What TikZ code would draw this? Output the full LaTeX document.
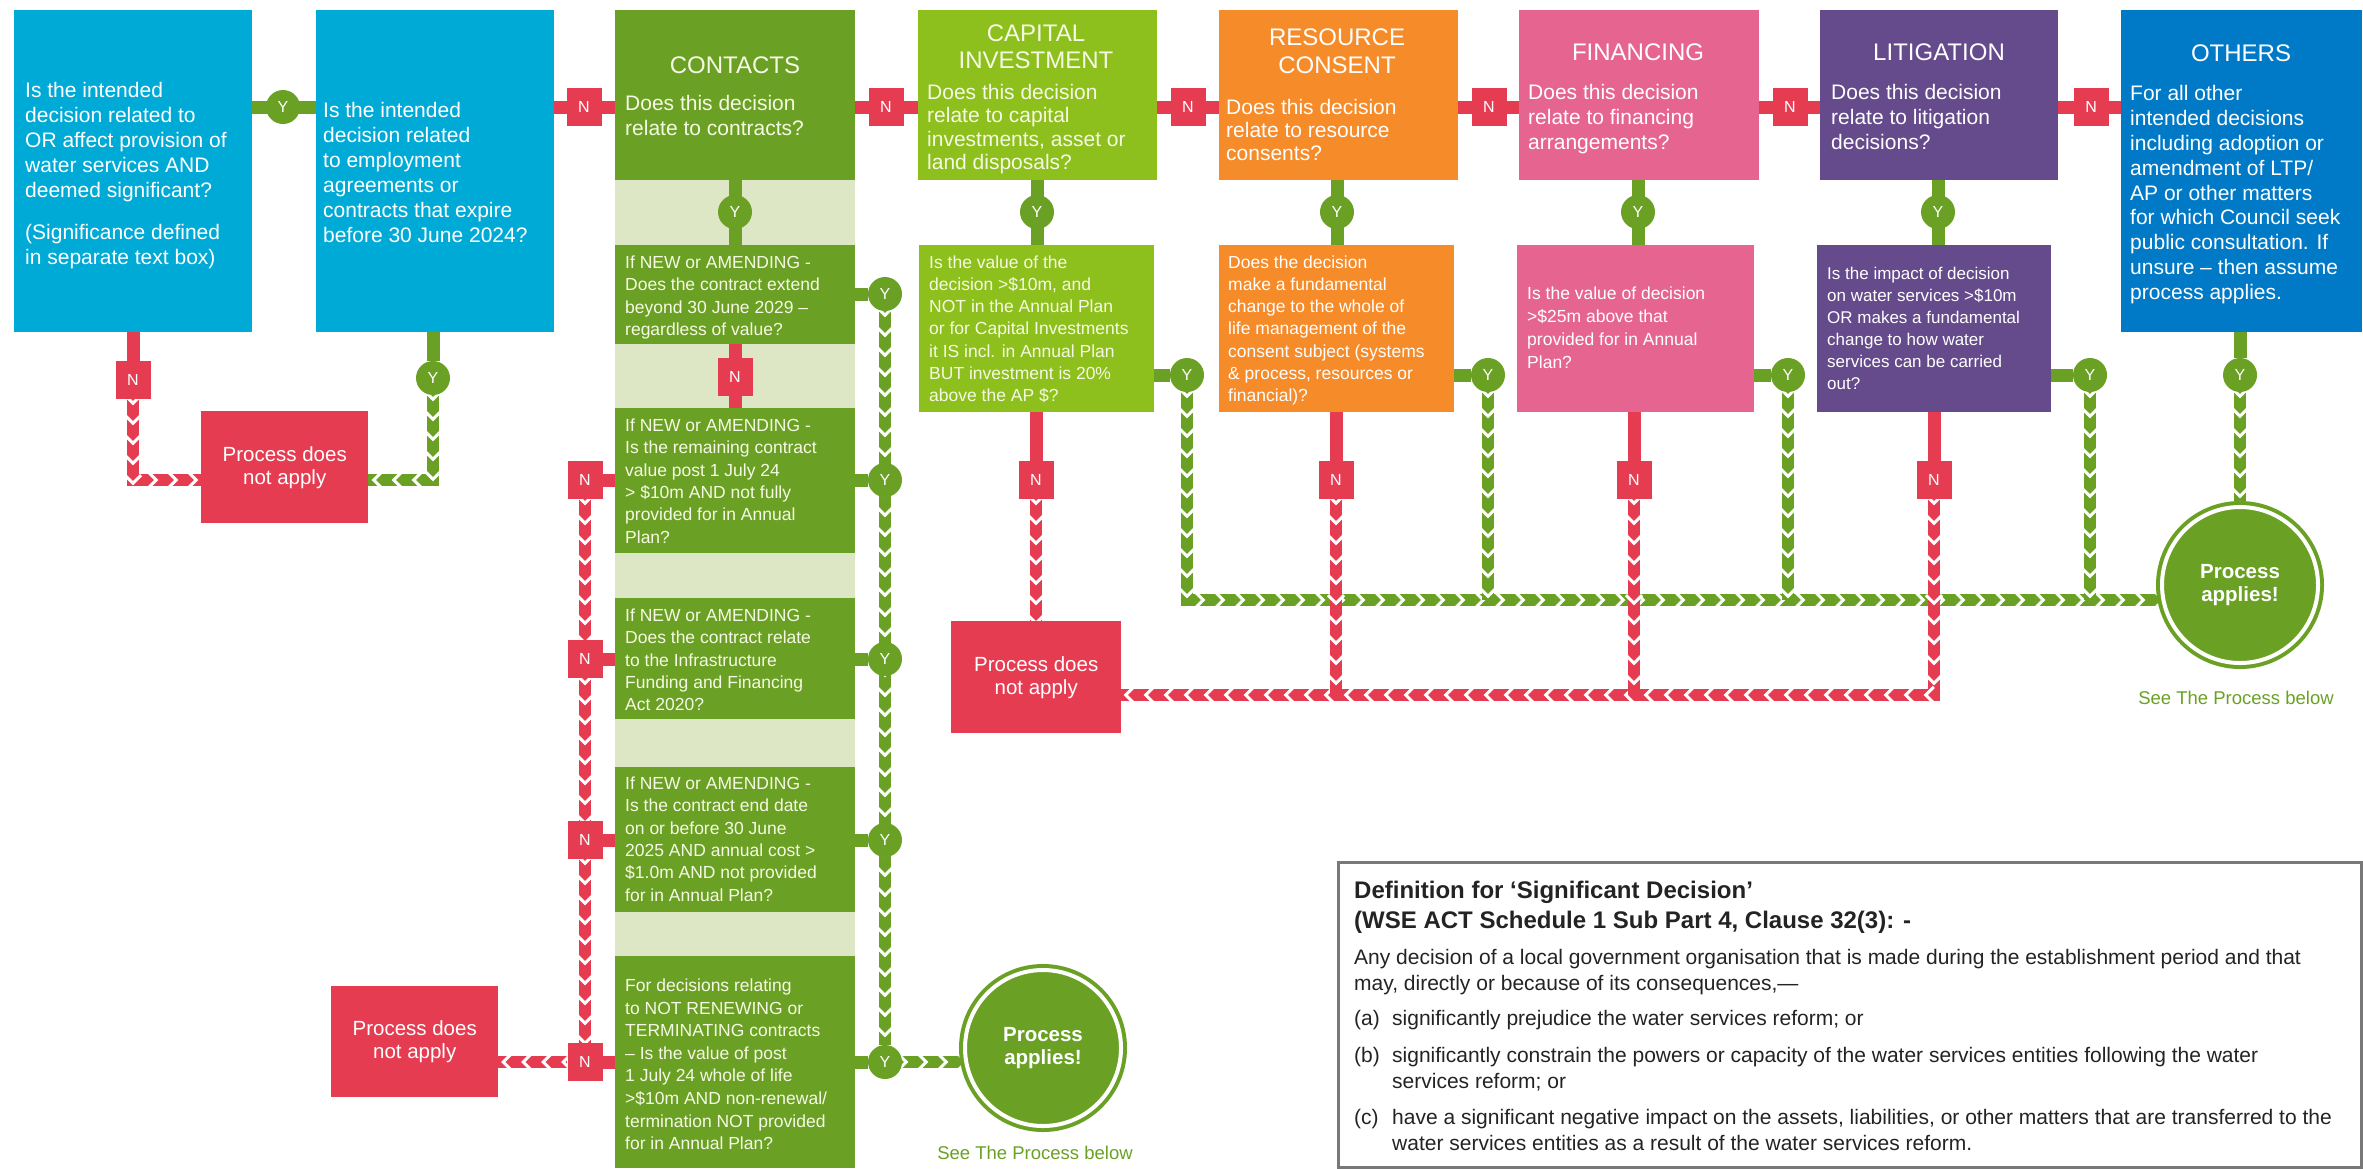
\documentclass[tikz,border=0pt]{standalone}
\usepackage{fontspec}
\setmainfont{Liberation Sans}
\usetikzlibrary{decorations.markings}
\definecolor{cBlue}{RGB}{0,170,214}
\definecolor{cBlueO}{RGB}{0,122,199}
\definecolor{cGreen}{RGB}{106,161,36}
\definecolor{cLight}{RGB}{221,231,198}
\definecolor{cLime}{RGB}{141,192,28}
\definecolor{cOrange}{RGB}{246,139,42}
\definecolor{cPink}{RGB}{230,101,144}
\definecolor{cPurple}{RGB}{101,74,140}
\definecolor{cRed}{RGB}{230,60,82}
\definecolor{cGray}{RGB}{120,120,120}
\definecolor{cText}{RGB}{35,35,35}
\definecolor{cCream}{RGB}{246,249,228}
\pgfdeclarelayer{bg}
\pgfdeclarelayer{back}
\pgfsetlayers{back,bg,main}
\newcommand\fQ{\fontsize{21}{25}\selectfont}
\newcommand\fT{\fontsize{24}{27.5}\selectfont}
\newcommand\fS{\fontsize{17.5}{22.4}\selectfont}
\newcommand\fM{\fontsize{16}{16}\selectfont}
\newcommand\fP{\fontsize{20.5}{23}\selectfont}
\newcommand\fD{\fontsize{21}{26.5}\selectfont}
\newcommand\fDT{\fontsize{24}{30}\selectfont\bfseries}
\newcommand\fSee{\fontsize{18.5}{20}\selectfont}
\tikzset{
  box/.style={rectangle, inner sep=0pt, anchor=north west},
  txt/.style={anchor=north west, inner sep=0pt, align=left, text=white},
  ttl/.style={anchor=center, inner sep=0pt, align=center, text=white, font=\fT},
  ymark/.style={circle, fill=cGreen, text=white, minimum size=34pt, inner sep=0pt, font=\fM},
  nmark/.style={rectangle, fill=cRed, text=white, minimum width=35pt, minimum height=38pt, inner sep=0pt, font=\fM},
  gline/.style={draw=cGreen, line width=13pt},
  rline/.style={draw=cRed, line width=13pt},
  chevmarks/.style={postaction={decorate, decoration={markings,
     mark=between positions 0 and 1 step 20pt with {\draw[white, line width=3pt, line join=miter] (-4pt,-8pt) -- (4pt,0pt) -- (-4pt,8pt);}}}},
  gchev/.style={draw=cGreen, line width=12pt, line join=miter, chevmarks},
  rchev/.style={draw=cRed, line width=12pt, line join=miter, chevmarks},
  pdna/.style={box, fill=cRed, text=white, font=\fP, align=center},
  papp/.style={circle, fill=cGreen, draw=cGreen, line width=4pt, double=white, double distance=4pt, minimum size=156pt, inner sep=0pt, text=white, font=\fP\bfseries, align=center},
  seetxt/.style={inner sep=0pt, text=cGreen, font=\fSee}
}
\begin{document}
\begin{tikzpicture}[x=1pt,y=-1pt]
\useasboundingbox (0,0) rectangle (2363,1168);
% ---------- contracts column background ----------
\begin{pgfonlayer}{back}
\node[box, fill=cLight, minimum width=240pt, minimum height=988pt] (kcol) at (615,180) {};
\end{pgfonlayer}
% ---------- boxes ----------
\node[box, fill=cBlue, minimum width=238pt, minimum height=322pt] (b1) at (14,10) {};
\node[box, fill=cBlue, minimum width=238pt, minimum height=322pt] (b2) at (316,10) {};
\node[box, fill=cGreen, minimum width=240pt, minimum height=170pt] (hK) at (615,10) {};
\node[box, fill=cLime, minimum width=239pt, minimum height=170pt] (hC) at (918,10) {};
\node[box, fill=cOrange, minimum width=239pt, minimum height=170pt] (hR) at (1219,10) {};
\node[box, fill=cPink, minimum width=240pt, minimum height=170pt] (hF) at (1519,10) {};
\node[box, fill=cPurple, minimum width=238pt, minimum height=170pt] (hL) at (1820,10) {};
\node[box, fill=cBlueO, minimum width=241pt, minimum height=322pt] (hO) at (2121,10) {};
\node[box, fill=cGreen, minimum width=240pt, minimum height=99pt] (sK1) at (615,245) {};
\node[box, fill=cGreen, minimum width=240pt, minimum height=145pt] (sK2) at (615,408) {};
\node[box, fill=cGreen, minimum width=240pt, minimum height=121pt] (sK3) at (615,598) {};
\node[box, fill=cGreen, minimum width=240pt, minimum height=145pt] (sK4) at (615,767) {};
\node[box, fill=cGreen, minimum width=240pt, minimum height=212pt] (sK5) at (615,956) {};
\node[box, fill=cLime, minimum width=235pt, minimum height=167pt] (sC) at (919,245) {};
\node[box, fill=cOrange, minimum width=235pt, minimum height=167pt] (sR) at (1219,245) {};
\node[box, fill=cPink, minimum width=237pt, minimum height=167pt] (sF) at (1517,245) {};
\node[box, fill=cPurple, minimum width=234pt, minimum height=167pt] (sL) at (1817,245) {};
\node[pdna, minimum width=167pt, minimum height=112pt] (pdna1) at (201,411) {Process does\\not apply};
\node[pdna, minimum width=170pt, minimum height=112pt] (pdna2) at (951,621) {Process does\\not apply};
\node[pdna, minimum width=167pt, minimum height=111pt] (pdna3) at (331,986) {Process does\\not apply};
\node[papp] (pa1) at (1043,1048) {Process\\applies!};
\node[papp] (pa2) at (2240,585) {Process\\applies!};
\node[seetxt] (see1) at (1035,1153) {See The Process below};
\node[seetxt] (see2) at (2236,698) {See The Process below};
% ---------- texts ----------
\node[txt, font=\fQ] (tb1) at (25,82) {Is the intended\\decision related to\\OR affect provision of\\water services AND\\deemed significant?\\[17pt](Significance defined\\in separate text box)};
\node[txt, font=\fQ] (tb2) at (323,102) {Is the intended\\decision related\\to employment\\agreements or\\contracts that expire\\before 30 June 2024?};
\node[ttl, text=cCream] (tKt) at (735,65) {CONTACTS};
\node[txt, font=\fQ, text=cCream] (tKq) at (625,95) {Does this decision\\relate to contracts?};
\node[ttl, text=cCream] (tCt) at (1036,46.5) {CAPITAL\\INVESTMENT};
\node[txt, font=\fontsize{21}{23.4}\selectfont, text=cCream] (tCq) at (927,84) {Does this decision\\relate to capital\\investments, asset or\\land disposals?};
\node[ttl] (tRt) at (1337,51) {RESOURCE\\CONSENT};
\node[txt, font=\fontsize{21}{23}\selectfont] (tRq) at (1226,99) {Does this decision\\relate to resource\\consents?};
\node[ttl] (tFt) at (1638,52) {FINANCING};
\node[txt, font=\fQ] (tFq) at (1528,84) {Does this decision\\relate to financing\\arrangements?};
\node[ttl] (tLt) at (1939,52) {LITIGATION};
\node[txt, font=\fQ] (tLq) at (1831,84) {Does this decision\\relate to litigation\\decisions?};
\node[ttl] (tOt) at (2241,53) {OTHERS};
\node[txt, font=\fontsize{21}{24.9}\selectfont] (tOq) at (2130,85) {For all other\\intended decisions\\including adoption or\\amendment of LTP/\\AP or other matters\\for which Council seek\\public consultation. If\\unsure -- then assume\\process applies.};
\node[txt, font=\fS, text=cCream] (tK1) at (625,255.5) {If NEW or AMENDING -\\Does the contract extend\\beyond 30 June 2029 --\\regardless of value?};
\node[txt, font=\fS, text=cCream] (tK2) at (625,418.5) {If NEW or AMENDING -\\Is the remaining contract\\value post 1 July 24\\> \$10m AND not fully\\provided for in Annual\\Plan?};
\node[txt, font=\fS, text=cCream] (tK3) at (625,608.5) {If NEW or AMENDING -\\Does the contract relate\\to the Infrastructure\\Funding and Financing\\Act 2020?};
\node[txt, font=\fS, text=cCream] (tK4) at (625,776.5) {If NEW or AMENDING -\\Is the contract end date\\on or before 30 June\\2025 AND annual cost >\\\$1.0m AND not provided\\for in Annual Plan?};
\node[txt, font=\fontsize{17.5}{22.6}\selectfont, text=cCream] (tK5) at (625,978.5) {For decisions relating\\to NOT RENEWING or\\TERMINATING contracts\\-- Is the value of post\\1 July 24 whole of life\\>\$10m AND non-renewal/\\termination NOT provided\\for in Annual Plan?};
\node[txt, font=\fontsize{17.5}{22.2}\selectfont, text=cCream] (tC1) at (929,255.5) {Is the value of the\\decision >\$10m, and\\NOT in the Annual Plan\\or for Capital Investments\\it IS incl. in Annual Plan\\BUT investment is 20\%\\above the AP \$?};
\node[txt, font=\fontsize{17.5}{22.2}\selectfont] (tR1) at (1228,255.5) {Does the decision\\make a fundamental\\change to the whole of\\life management of the\\consent subject (systems\\\& process, resources or\\financial)?};
\node[txt, font=\fontsize{17.5}{23}\selectfont] (tF1) at (1527,286.5) {Is the value of decision\\>\$25m above that\\provided for in Annual\\Plan?};
\node[txt, font=\fontsize{17}{22}\selectfont] (tL1) at (1827,266.5) {Is the impact of decision\\on water services >\$10m\\OR makes a fundamental\\change to how water\\services can be carried\\out?};
% ---------- definition box ----------
\node[box, draw=cGray, line width=2.5pt, minimum width=1023pt, minimum height=305pt] (defbox) at (1337,861) {};
\node[txt, text=cText, font=\fDT] (dT) at (1354,881) {Definition for ‘Significant Decision’\\(WSE ACT Schedule 1 Sub Part 4, Clause 32(3): -};
\node[txt, text=cText, font=\fD] (dB) at (1354,949) {Any decision of a local government organisation that is made during the establishment period and that\\may, directly or because of its consequences,—};
\node[txt, text=cText, font=\fD] (dAl) at (1354,1010) {(a)};
\node[txt, text=cText, font=\fD] (dA) at (1392,1010) {significantly prejudice the water services reform; or};
\node[txt, text=cText, font=\fD] (dBl) at (1354,1047) {(b)};
\node[txt, text=cText, font=\fD] (dBt) at (1392,1047) {significantly constrain the powers or capacity of the water services entities following the water\\services reform; or};
\node[txt, text=cText, font=\fD] (dCl) at (1354,1109) {(c)};
\node[txt, text=cText, font=\fD] (dCt) at (1392,1109) {have a significant negative impact on the assets, liabilities, or other matters that are transferred to the\\water services entities as a result of the water services reform.};
% ---------- markers ----------
\node[ymark] (yTop) at (283,107) {Y};
\node[nmark] (nTop1) at (584,107) {N};
\node[nmark] (nTop2) at (886,107) {N};
\node[nmark] (nTop3) at (1188,107) {N};
\node[nmark] (nTop4) at (1489,107) {N};
\node[nmark] (nTop5) at (1790,107) {N};
\node[nmark] (nTop6) at (2091,107) {N};
\node[ymark] (yK0) at (735,212) {Y};
\node[ymark] (yC0) at (1037,212) {Y};
\node[ymark] (yR0) at (1337,212) {Y};
\node[ymark] (yF0) at (1638,212) {Y};
\node[ymark] (yL0) at (1938,212) {Y};
\node[nmark] (nK0) at (735,377) {N};
\node[ymark] (yK1) at (885,294) {Y};
\node[ymark] (yK2) at (885,480) {Y};
\node[ymark] (yK3) at (885,659) {Y};
\node[ymark] (yK4) at (885,840) {Y};
\node[ymark] (yK5) at (885,1062) {Y};
\node[nmark] (nK2) at (585,480) {N};
\node[nmark] (nK3) at (585,659) {N};
\node[nmark] (nK4) at (585,840) {N};
\node[nmark] (nK5) at (585,1062) {N};
\node[ymark] (yC1) at (1187,375) {Y};
\node[ymark] (yR1) at (1488,375) {Y};
\node[ymark] (yF1) at (1788,375) {Y};
\node[ymark] (yL1) at (2090,375) {Y};
\node[ymark] (yO1) at (2240,375) {Y};
\node[nmark] (nC1) at (1036,480) {N};
\node[nmark] (nR1) at (1336,480) {N};
\node[nmark] (nF1) at (1634,480) {N};
\node[nmark] (nL1) at (1934,480) {N};
\node[nmark] (nB1) at (133,380) {N};
\node[ymark] (yB2) at (433,378) {Y};
\coordinate (gH) at (0,600);
\coordinate (rH) at (0,695);
\coordinate (tlH) at (0,480);
% ---------- connectors ----------
\begin{pgfonlayer}{bg}
\draw[gline] (b1.east |- yTop) -- (b2.west |- yTop);
\draw[rline] (b2.east |- nTop1) -- (hK.west |- nTop1);
\draw[rline] (hK.east |- nTop2) -- (hC.west |- nTop2);
\draw[rline] (hC.east |- nTop3) -- (hR.west |- nTop3);
\draw[rline] (hR.east |- nTop4) -- (hF.west |- nTop4);
\draw[rline] (hF.east |- nTop5) -- (hL.west |- nTop5);
\draw[rline] (hL.east |- nTop6) -- (hO.west |- nTop6);
\draw[gline] (hK.south -| yK0) -- (sK1.north -| yK0);
\draw[gline] (hC.south -| yC0) -- (sC.north -| yC0);
\draw[gline] (hR.south -| yR0) -- (sR.north -| yR0);
\draw[gline] (hF.south -| yF0) -- (sF.north -| yF0);
\draw[gline] (hL.south -| yL0) -- (sL.north -| yL0);
\draw[rline] (sK1.south -| nK0) -- (sK2.north -| nK0);
\draw[gline] (sK1.east |- yK1) -- (yK1);
\draw[gline] (sK2.east |- yK2) -- (yK2);
\draw[gline] (sK3.east |- yK3) -- (yK3);
\draw[gline] (sK4.east |- yK4) -- (yK4);
\draw[gline] (sK5.east |- yK5) -- (yK5);
\draw[rline] (nK2) -- (sK2.west |- nK2);
\draw[rline] (nK3) -- (sK3.west |- nK3);
\draw[rline] (nK4) -- (sK4.west |- nK4);
\draw[rline] (nK5) -- (sK5.west |- nK5);
\draw[gline] (sC.east |- yC1) -- (yC1);
\draw[gline] (sR.east |- yR1) -- (yR1);
\draw[gline] (sF.east |- yF1) -- (yF1);
\draw[gline] (sL.east |- yL1) -- (yL1);
\draw[gline] (hO.south -| yO1) -- (yO1);
\draw[rline] (sC.south -| nC1) -- (nC1);
\draw[rline] (sR.south -| nR1) -- (nR1);
\draw[rline] (sF.south -| nF1) -- (nF1);
\draw[rline] (sL.south -| nL1) -- (nL1);
\draw[rline] (b1.south -| nB1) -- (nB1);
\draw[gline] (b2.south -| yB2) -- (yB2);
% chevron connectors
\draw[gchev] (yB2) -- (yB2 |- tlH) -- (pdna1.east |- tlH);
\draw[rchev] (nB1) -- (nB1 |- tlH) -- (pdna1.west |- tlH);
\draw[gchev] (yK1) -- (yK5);
\draw[gchev] (yK5) -- (pa1.west |- yK5);
\draw[rchev] (nK2) -- (nK5);
\draw[rchev] (nK5) -- (pdna3.east |- nK5);
\draw[gchev] (yC1) -- (yC1 |- gH) -- (pa2.west |- gH);
\draw[gchev] (yR1) -- (yR1 |- gH);
\draw[gchev] (yF1) -- (yF1 |- gH);
\draw[gchev] (yL1) -- (yL1 |- gH);
\draw[gchev] (yO1) -- (pa2.north);
\draw[rchev] (nC1) -- (nC1 |- pdna2.north);
\draw[rchev] (nL1) -- (nL1 |- rH) -- (pdna2.east |- rH);
\draw[rchev] (nR1) -- (nR1 |- rH);
\draw[rchev] (nF1) -- (nF1 |- rH);
\end{pgfonlayer}
\end{tikzpicture}
\end{document}
